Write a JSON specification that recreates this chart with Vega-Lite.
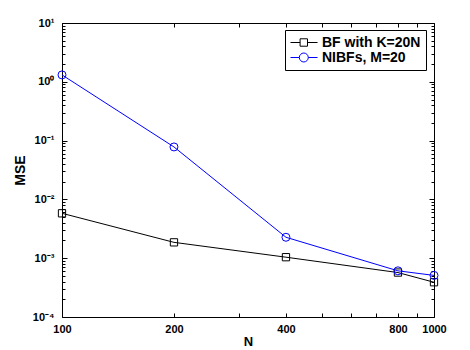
{
  "$schema": "https://vega.github.io/schema/vega-lite/v6.json",
  "width": 372,
  "height": 294,
  "autosize": {"type": "none"},
  "padding": {"left": 62, "top": 23, "right": 36, "bottom": 33},
  "background": "#ffffff",
  "config": {
    "view": {"stroke": null},
    "font": "Liberation Sans",
    "axis": {
      "grid": false,
      "domainColor": "#000000",
      "domainWidth": 1,
      "tickColor": "#000000",
      "tickWidth": 1,
      "labelFont": "Liberation Sans",
      "labelFontSize": 11,
      "labelFontWeight": "bold",
      "labelColor": "#000000",
      "labelOverlap": false,
      "labelFlush": false,
      "titleFont": "Liberation Sans",
      "titleFontSize": 14,
      "titleFontWeight": "bold",
      "titleColor": "#000000"
    }
  },
  "data": {
    "values": [
      {"N": 100, "mse": 0.0058, "series": "BF with K=20N"},
      {"N": 200, "mse": 0.00186, "series": "BF with K=20N"},
      {"N": 400, "mse": 0.00104, "series": "BF with K=20N"},
      {"N": 800, "mse": 0.00057, "series": "BF with K=20N"},
      {"N": 1000, "mse": 0.00039, "series": "BF with K=20N"},
      {"N": 100, "mse": 1.31, "series": "NIBFs, M=20"},
      {"N": 200, "mse": 0.078, "series": "NIBFs, M=20"},
      {"N": 400, "mse": 0.00227, "series": "NIBFs, M=20"},
      {"N": 800, "mse": 0.00061, "series": "NIBFs, M=20"},
      {"N": 1000, "mse": 0.00051, "series": "NIBFs, M=20"}
    ]
  },
  "layer": [
    {
      "layer": [
        {
          "transform": [{"filter": "datum.series == 'BF with K=20N'"}],
          "mark": {"type": "line", "strokeWidth": 1, "color": "#000000"},
          "encoding": {
            "x": {
              "field": "N",
              "type": "quantitative",
              "title": "N",
              "scale": {"type": "log", "domain": [100, 1000], "nice": false},
              "axis": {
                "orient": "bottom",
                "values": [100, 200, 300, 400, 500, 600, 700, 800, 900, 1000],
                "tickSize": -4,
                "labelPadding": 10,
                "titlePadding": 1,
                "titleFontSize": 13,
                "labelExpr": "indexof([100,200,400,800,1000], datum.value) >= 0 ? format(datum.value, 'd') : ''"
              }
            },
            "y": {
              "field": "mse",
              "type": "quantitative",
              "title": "MSE",
              "scale": {"type": "log", "domain": [0.0001, 10], "nice": false},
              "axis": {
                "orient": "left",
                "values": [0.0001, 0.0002, 0.0003, 0.0004, 0.0005, 0.0006, 0.0007, 0.0008, 0.0009,
                           0.001, 0.002, 0.003, 0.004, 0.005, 0.006, 0.007, 0.008, 0.009,
                           0.01, 0.02, 0.03, 0.04, 0.05, 0.06, 0.07, 0.08, 0.09,
                           0.1, 0.2, 0.3, 0.4, 0.5, 0.6, 0.7, 0.8, 0.9,
                           1, 2, 3, 4, 5, 6, 7, 8, 9, 10],
                "tickSize": {
                  "condition": {"test": "abs(log(datum.value)/LN10 - round(log(datum.value)/LN10)) < 1e-6", "value": -5},
                  "value": -3
                },
                "labelPadding": 13,
                "titlePadding": 5,
                "labelExpr": "abs(log(datum.value)/LN10 - round(log(datum.value)/LN10)) < 1e-6 ? '10' + (round(log(datum.value)/LN10) < 0 ? '⁻' : '') + ['⁰','¹','²','³','⁴'][abs(round(log(datum.value)/LN10))] : ''"
              }
            }
          }
        },
        {
          "transform": [{"filter": "datum.series == 'NIBFs, M=20'"}],
          "mark": {"type": "line", "strokeWidth": 1, "color": "#0000ff"},
          "encoding": {
            "x": {"field": "N", "type": "quantitative"},
            "y": {"field": "mse", "type": "quantitative"}
          }
        },
        {
          "transform": [{"filter": "datum.series == 'BF with K=20N'"}],
          "mark": {"type": "point", "shape": "square", "filled": false, "size": 53, "color": "#000000", "strokeWidth": 1, "opacity": 1},
          "encoding": {
            "x": {"field": "N", "type": "quantitative"},
            "y": {"field": "mse", "type": "quantitative"}
          }
        },
        {
          "transform": [{"filter": "datum.series == 'NIBFs, M=20'"}],
          "mark": {"type": "point", "shape": "circle", "filled": false, "size": 64, "color": "#0000ff", "strokeWidth": 1, "opacity": 1},
          "encoding": {
            "x": {"field": "N", "type": "quantitative"},
            "y": {"field": "mse", "type": "quantitative"}
          }
        },
        {
          "transform": [{"filter": "datum.N < 0"}],
          "mark": {"type": "point", "filled": false, "size": 196, "strokeWidth": 1},
          "encoding": {
            "x": {"field": "N", "type": "quantitative"},
            "y": {"field": "mse", "type": "quantitative"},
            "color": {
              "field": "series",
              "type": "nominal",
              "scale": {"domain": ["BF with K=20N", "NIBFs, M=20"], "range": ["#000000", "#0000ff"]},
              "legend": {
                "title": null,
                "orient": "none",
                "legendX": 223,
                "legendY": 7,
                "padding": 5,
                "strokeColor": "#000000",
                "fillColor": "#ffffff",
                "labelFont": "Liberation Sans",
                "labelFontWeight": "bold",
                "labelFontSize": 14,
                "labelColor": "#000000",
                "labelOffset": 17,
                "rowPadding": 0,
                "symbolSize": 196,
                "symbolStrokeWidth": 1,
                "symbolFillColor": "transparent",
                "symbolOpacity": 1
              }
            },
            "shape": {
              "field": "series",
              "type": "nominal",
              "scale": {
                "domain": ["BF with K=20N", "NIBFs, M=20"],
                "range": [
                  "M-1,0H0.37M1.43,0H2.86M0.37,-0.53H1.43V0.53H0.37Z",
                  "M-1,0H0.26M1.54,0H2.86M1.54,0A0.64,0.64,0,1,1,0.26,0A0.64,0.64,0,1,1,1.54,0Z"
                ]
              },
              "legend": {
                "title": null,
                "orient": "none",
                "legendX": 223,
                "legendY": 7,
                "padding": 5,
                "strokeColor": "#000000",
                "fillColor": "#ffffff",
                "labelFont": "Liberation Sans",
                "labelFontWeight": "bold",
                "labelFontSize": 14,
                "labelColor": "#000000",
                "labelOffset": 17,
                "rowPadding": 0,
                "symbolSize": 196,
                "symbolStrokeWidth": 1,
                "symbolFillColor": "transparent",
                "symbolOpacity": 1
              }
            }
          }
        }
      ]
    },
    {
      "mark": {"type": "line", "opacity": 0},
      "encoding": {
        "x": {
          "field": "N",
          "type": "quantitative",
          "axis": {
            "orient": "top",
            "title": null,
            "labels": false,
            "values": [100, 200, 300, 400, 500, 600, 700, 800, 900, 1000],
            "tickSize": -4
          }
        },
        "y": {
          "field": "mse",
          "type": "quantitative",
          "axis": {
            "orient": "right",
            "title": null,
            "labels": false,
            "values": [0.0001, 0.0002, 0.0003, 0.0004, 0.0005, 0.0006, 0.0007, 0.0008, 0.0009,
                       0.001, 0.002, 0.003, 0.004, 0.005, 0.006, 0.007, 0.008, 0.009,
                       0.01, 0.02, 0.03, 0.04, 0.05, 0.06, 0.07, 0.08, 0.09,
                       0.1, 0.2, 0.3, 0.4, 0.5, 0.6, 0.7, 0.8, 0.9,
                       1, 2, 3, 4, 5, 6, 7, 8, 9, 10],
            "tickSize": {
              "condition": {"test": "abs(log(datum.value)/LN10 - round(log(datum.value)/LN10)) < 1e-6", "value": -5},
              "value": -3
            }
          }
        },
        "detail": {"field": "series", "type": "nominal"}
      }
    }
  ],
  "resolve": {"axis": {"x": "independent", "y": "independent"}}
}
